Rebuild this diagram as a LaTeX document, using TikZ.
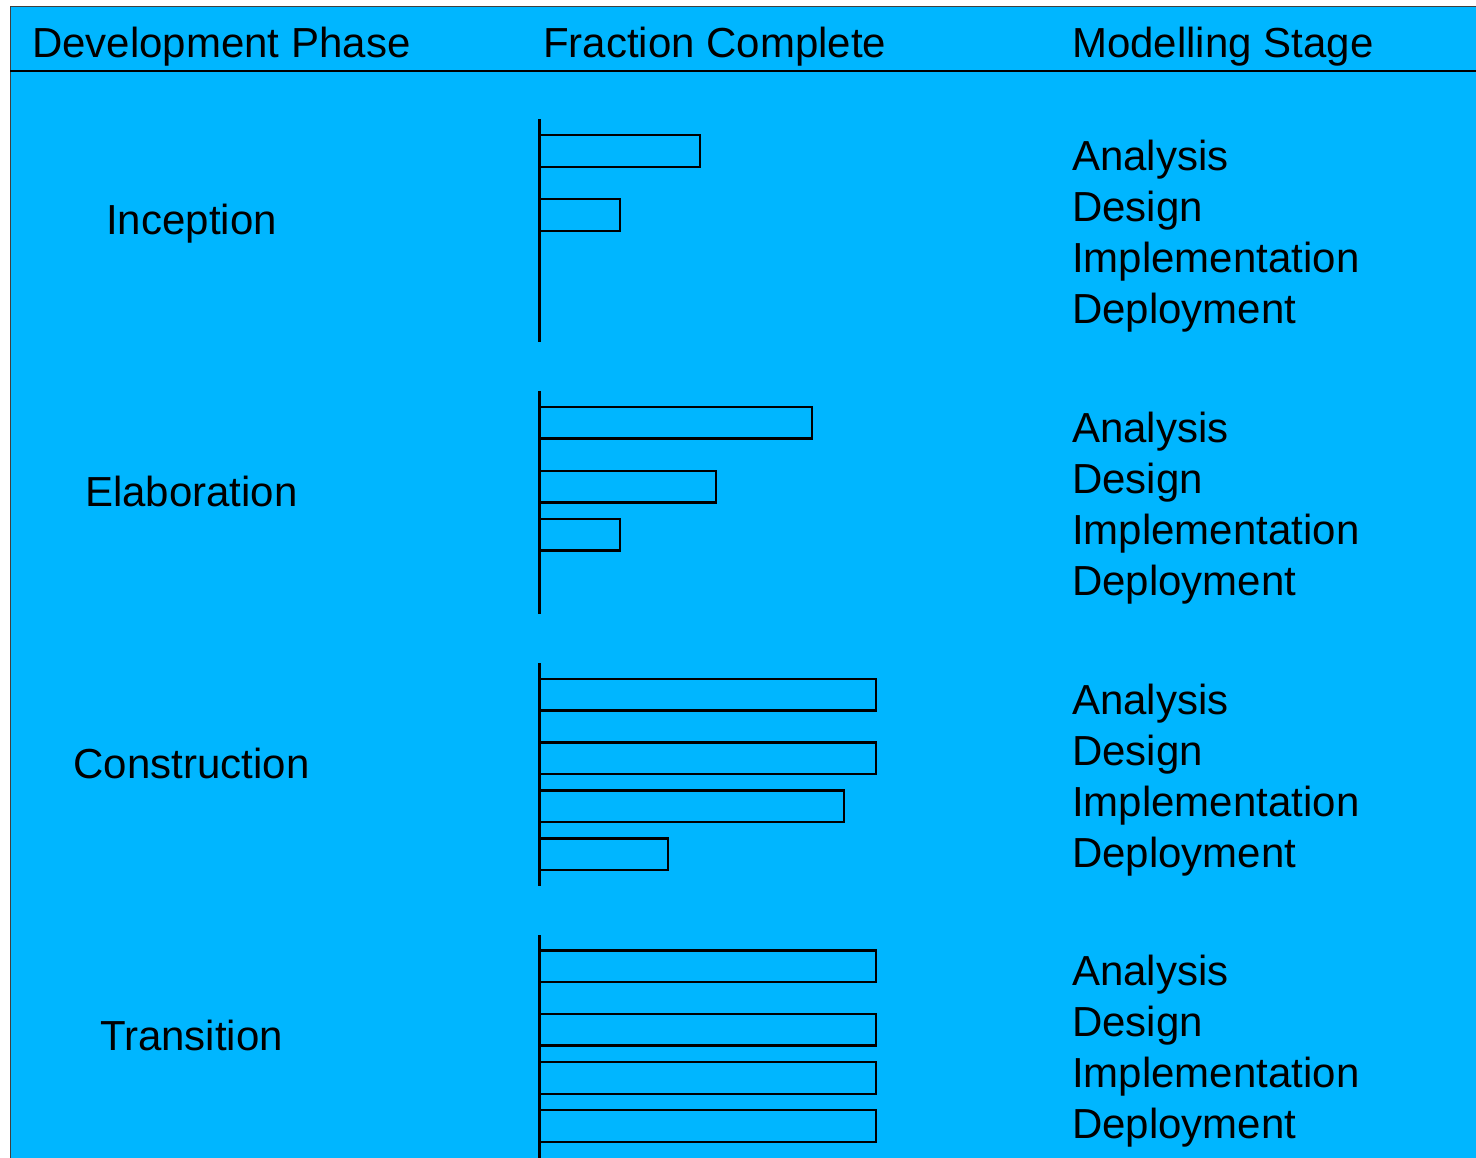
\documentclass[tikz,border=0pt]{standalone}
\usepackage{fontspec}
\setmainfont{Liberation Sans}
\definecolor{panelblue}{RGB}{0,182,255}

\tikzset{every picture/.style={line width=2.5pt}}
\tikzset{
  label/.style={font=\fontsize{42}{50}\selectfont, inner sep=0pt},
  phase/.style={label, anchor=base},
  stage/.style={label, anchor=base west},
  bar/.style={draw=black, line width=2.5pt},
  axis/.style={draw=black, line width=2.5pt}
}

\begin{document}
\begin{tikzpicture}[x=1pt,y=1pt,yscale=-1,xscale=1]
\useasboundingbox (0,0) rectangle (1476,1158);
\clip (0,0) rectangle (1476,1158);

%Shape: Rectangle (panel)
\draw [fill=panelblue, draw=black!75, line width=1pt] (10,7) rectangle (1490,1170);
%Shape: Line (header rule)
\draw [line width=2.5pt] (10,71) -- (1490,71);

% Header
\node [stage] (hdrphase) at (31,58) {Development Phase};
\node [stage] (hdrfrac) at (542,58) {Fraction Complete};
\node [stage] (hdrstage) at (1071,58) {Modelling Stage};

% Inception
\node [phase] (inception) at (191.5,235) {Inception};
\draw [axis] (539.5,119.5) -- (539.5,342.5);
\draw [bar] (539.5,135) rectangle (700,167);
\draw [bar] (539.5,199) rectangle (620,231);
\node [stage] (incAnalysis) at (1071,170.5) {Analysis};
\node [stage] (incDesign) at (1071,221.5) {Design};
\node [stage] (incImpl) at (1071,272.5) {Implementation};
\node [stage] (incDeploy) at (1071,323.5) {Deployment};

% Elaboration
\node [phase] (elaboration) at (191.5,506.5) {Elaboration};
\draw [axis] (539.5,391) -- (539.5,614);
\draw [bar] (539.5,407) rectangle (812,438.5);
\draw [bar] (539.5,471) rectangle (716,502.5);
\draw [bar] (539.5,519) rectangle (620,550.5);
\node [stage] (elaAnalysis) at (1071,442) {Analysis};
\node [stage] (elaDesign) at (1071,493) {Design};
\node [stage] (elaImpl) at (1071,544) {Implementation};
\node [stage] (elaDeploy) at (1071,595) {Deployment};

% Construction
\node [phase] (construction) at (191.5,778) {Construction};
\draw [axis] (539.5,663) -- (539.5,885.5);
\draw [bar] (539.5,679) rectangle (876,710.5);
\draw [bar] (539.5,742.5) rectangle (876,774);
\draw [bar] (539.5,790.5) rectangle (844,822);
\draw [bar] (539.5,838.5) rectangle (668,870);
\node [stage] (conAnalysis) at (1071,714) {Analysis};
\node [stage] (conDesign) at (1071,765) {Design};
\node [stage] (conImpl) at (1071,816) {Implementation};
\node [stage] (conDeploy) at (1071,867) {Deployment};

% Transition
\node [phase] (transition) at (191.5,1050) {Transition};
\draw [axis] (539.5,935) -- (539.5,1165);
\draw [bar] (539.5,950.5) rectangle (876,982);
\draw [bar] (539.5,1014) rectangle (876,1045.5);
\draw [bar] (539.5,1062) rectangle (876,1094);
\draw [bar] (539.5,1110) rectangle (876,1142);
\node [stage] (traAnalysis) at (1071,985.5) {Analysis};
\node [stage] (traDesign) at (1071,1036.5) {Design};
\node [stage] (traImpl) at (1071,1087.5) {Implementation};
\node [stage] (traDeploy) at (1071,1138.5) {Deployment};

\end{tikzpicture}
\end{document}
